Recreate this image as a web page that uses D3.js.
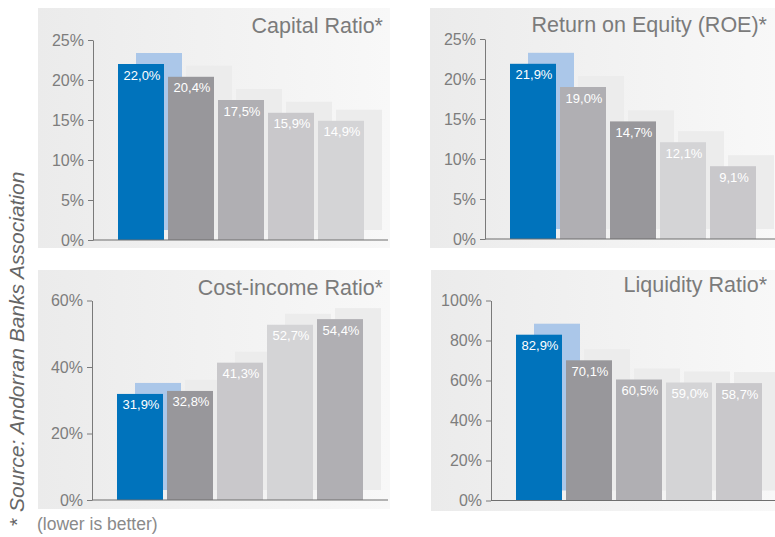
<!DOCTYPE html>
<html>
<head>
<meta charset="utf-8">
<script src="https://cdn.jsdelivr.net/npm/d3@7"></script>
<style>
  body { margin: 0; background: #fff; }
  text { font-family: "Liberation Sans", Arial, sans-serif; }
</style>
</head>
<body>
<svg id="chart" width="775" height="537"></svg>
<script>
// values per panel (ranked, first bar is the highlighted bank)
const capitalValues = [22.0, 20.4, 17.5, 15.9, 14.9]
const capitalBanks = ["b1", "b2", "b3", "b4", "b5"]
const roeValues = [21.9, 19.0, 14.7, 12.1, 9.1]
const roeBanks = ["b1", "b3", "b2", "b5", "b4"]
const costValues = [31.9, 32.8, 41.3, 52.7, 54.4]
const costBanks = ["b1", "b2", "b4", "b5", "b3"]
const liquidityValues = [82.9, 70.1, 60.5, 59.0, 58.7]
const liquidityBanks = ["b1", "b2", "b3", "b5", "b4"]

const titles = ["Capital Ratio*", "Return on Equity (ROE)*", "Cost-income Ratio*", "Liquidity Ratio*"]
const yMax = [25, 25, 60, 100]
const yStep = [5, 5, 20, 20]

const bankColor = d3.scaleOrdinal()
    .domain(["b1", "b2", "b3", "b4", "b5"])
    .range(["#0073bc", "#98979b", "#b0afb3", "#c9c8cb", "#d4d4d6"])

// panel boxes (layout only)
const layout = [
  {bx: 38, by: 8, bw: 352, bh: 240, ax: 93, top: 40, base: 240, bar0: 118, right: 388, ty: 33},
  {bx: 430, by: 8, bw: 345, bh: 240, ax: 485, top: 39, base: 239, bar0: 510, right: 775, ty: 32},
  {bx: 38, by: 270, bw: 352, bh: 239, ax: 92, top: 300.5, base: 500, bar0: 117, right: 388, ty: 295},
  {bx: 431, by: 270, bw: 344, bh: 241, ax: 491, top: 300.5, base: 500.5, bar0: 516, right: 775, ty: 292}
]
const panelData = [
  {values: capitalValues, banks: capitalBanks},
  {values: roeValues, banks: roeBanks},
  {values: costValues, banks: costBanks},
  {values: liquidityValues, banks: liquidityBanks}
]

const svg = d3.select("#chart")
const defs = svg.append("defs")
const grad = defs.append("linearGradient").attr("id", "bg")
grad.append("stop").attr("offset", "0%").attr("stop-color", "#ebebeb")
grad.append("stop").attr("offset", "100%").attr("stop-color", "#f8f8f8")

const fmt = v => d3.format(".1f")(v).replace(".", ",") + "%"
const barW = 46, barStep = 50, shX = 18, shY = 11, shGap = 10

layout.forEach((L, i) => {
  const d = panelData[i]
  const n = d.values.length
  const g = svg.append("g")

  g.append("rect")
    .attr("x", L.bx).attr("y", L.by)
    .attr("width", L.bw).attr("height", L.bh)
    .attr("fill", "url(#bg)")

  const y = d3.scaleLinear().domain([0, yMax[i]]).range([L.base, L.top])
  const x = d3.scaleBand()
    .domain(d3.range(n))
    .range([L.bar0, L.bar0 + barStep * n - (barStep - barW)])
    .paddingInner((barStep - barW) / barStep).paddingOuter(0)

  // offset "shadow" boxes behind each bar
  g.selectAll(".shadow").data(d.values).join("rect")
    .attr("x", (v, j) => x(j) + shX)
    .attr("y", v => y(v) - shY)
    .attr("width", x.bandwidth())
    .attr("height", v => (L.base - shGap) - (y(v) - shY))
    .attr("fill", (v, j) => j === 0 ? "#abc7e9" : "#ececec")

  g.selectAll(".bar").data(d.values).join("rect")
    .attr("x", (v, j) => x(j))
    .attr("y", v => y(v))
    .attr("width", x.bandwidth())
    .attr("height", v => L.base - y(v))
    .attr("fill", (v, j) => bankColor(d.banks[j]))

  g.selectAll(".lbl").data(d.values).join("text")
    .attr("x", (v, j) => x(j) + x.bandwidth() / 2 + 1)
    .attr("y", v => y(v) + 15.5)
    .attr("text-anchor", "middle")
    .attr("fill", "#fff")
    .attr("font-size", "13px")
    .text(fmt)

  // y axis
  const axis = d3.axisLeft(y)
    .tickValues(d3.range(0, yMax[i] + 0.01, yStep[i]))
    .tickSize(5).tickSizeOuter(0)
    .tickFormat(v => v + "%")
  const ag = g.append("g").attr("transform", `translate(${L.ax},0)`).call(axis)
  ag.select(".domain").attr("stroke", "#7a7a7a")
  ag.selectAll(".tick line").attr("stroke", "#7a7a7a")
  ag.selectAll(".tick text")
    .attr("fill", "#7d7d7d")
    .attr("font-size", "16px")
    .attr("font-family", "Liberation Sans, Arial, sans-serif")
    .attr("x", -9)

  g.append("line")
    .attr("x1", L.ax).attr("x2", L.right)
    .attr("y1", L.base).attr("y2", L.base)
    .attr("stroke", "#6f6f6f").attr("stroke-width", 1.2)

  g.append("text")
    .attr("x", i % 2 === 0 ? 383 : 767)
    .attr("y", L.ty)
    .attr("text-anchor", "end")
    .attr("fill", "#7b7b7b")
    .attr("font-size", "21.5px")
    .text(titles[i])
})

const src = svg.append("text")
  .attr("transform", "translate(24,526) rotate(-90)")
  .attr("fill", "#666")
  .attr("font-size", "21px")
src.append("tspan").text("* ")
src.append("tspan").attr("font-style", "italic").text("Source: Andorran Banks Association")

svg.append("text")
  .attr("x", 37).attr("y", 530)
  .attr("fill", "#8a8a8a")
  .attr("font-size", "17.5px")
  .text("(lower is better)")
</script>
</body>
</html>
